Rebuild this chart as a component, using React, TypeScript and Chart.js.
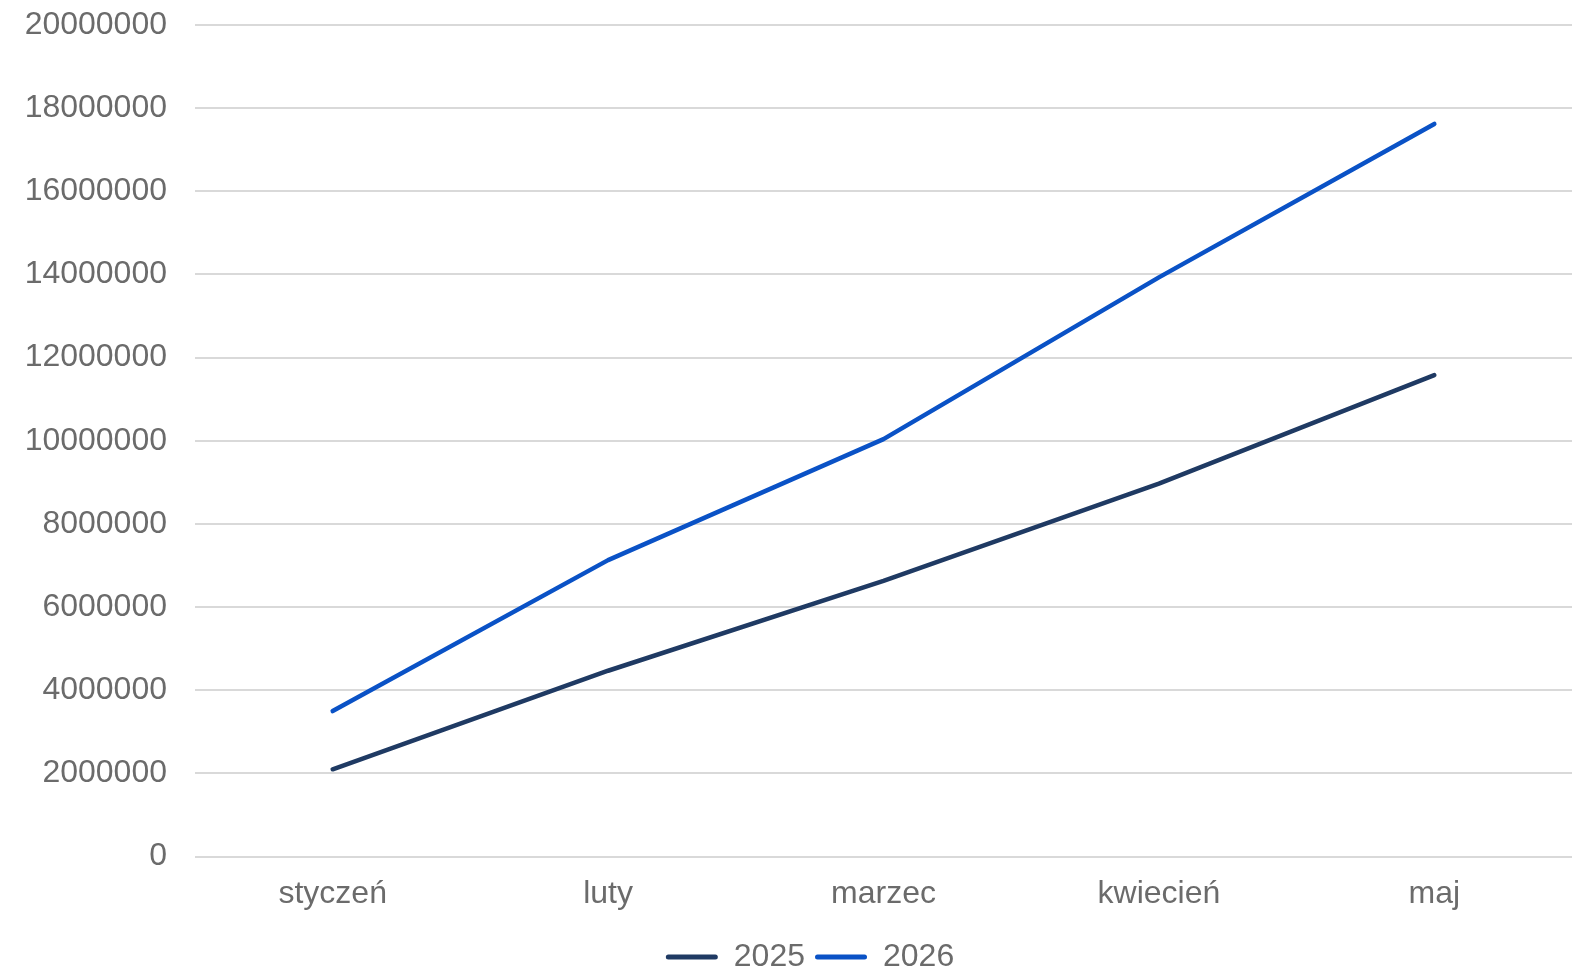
import React, { useEffect, useRef } from "react";
import { Chart, registerables } from "chart.js";

Chart.register(...registerables);

const categories = ["styczeń", "luty", "marzec", "kwiecień", "maj"];
const series2025 = [2100000, 4470000, 6630000, 8970000, 11580000];
const series2026 = [3500000, 7130000, 10040000, 13930000, 17620000];
const seriesLabels = ["2025", "2026"];

const FONT = "'Liberation Sans', Arial, sans-serif";
const TEXT = "#6b6b6b";
const W = 1578;
const H = 969;

const legendShift = {
  id: "legendShift",
  afterLayout(chart: any) {
    const l = chart.legend;
    if (l) {
      l.left += 24;
      l.right += 24;
    }
  },
};

export default function App() {
  const ref = useRef<HTMLCanvasElement | null>(null);

  useEffect(() => {
    document.body.style.margin = "0";
    const canvas = ref.current;
    if (!canvas) return;
    const chart = new Chart(canvas, {
      type: "line",
      data: {
        labels: categories,
        datasets: [
          {
            label: seriesLabels[0],
            data: series2025,
            borderColor: "#1f3a63",
            backgroundColor: "#1f3a63",
            borderWidth: 4.5,
            borderCapStyle: "round",
            borderJoinStyle: "round",
            pointRadius: 0,
            tension: 0,
          },
          {
            label: seriesLabels[1],
            data: series2026,
            borderColor: "#0a52c6",
            backgroundColor: "#0a52c6",
            borderWidth: 4.5,
            borderCapStyle: "round",
            borderJoinStyle: "round",
            pointRadius: 0,
            tension: 0,
          },
        ],
      },
      plugins: [legendShift],
      options: {
        animation: false,
        responsive: false,
        devicePixelRatio: 1,
        layout: { padding: { left: 0, right: 6, top: 25, bottom: -14 } },
        plugins: {
          tooltip: { enabled: false },
          legend: {
            position: "bottom",
            labels: {
              font: { family: FONT, size: 32 },
              color: TEXT,
              boxWidth: 52,
              boxHeight: 5,
              padding: 10,
              generateLabels: (c: any) =>
                c.data.datasets.map((d: any, i: number) => ({
                  text: d.label,
                  fillStyle: d.borderColor,
                  strokeStyle: d.borderColor,
                  lineWidth: 0,
                  borderRadius: 2.5,
                  fontColor: TEXT,
                  datasetIndex: i,
                  hidden: false,
                })),
            },
          },
        },
        scales: {
          x: {
            offset: true,
            grid: { display: false, drawTicks: false },
            border: { display: false },
            ticks: {
              font: { family: FONT, size: 32 },
              color: TEXT,
              padding: 18,
              maxRotation: 0,
            },
          },
          y: {
            min: 0,
            max: 20000000,
            grid: { color: "#d9d9d9", lineWidth: 2, drawTicks: false },
            border: { display: false },
            afterFit: (s: any) => {
              s.width = 195;
              s.paddingTop = 0;
              s.paddingBottom = 0;
            },
            ticks: {
              stepSize: 2000000,
              font: { family: FONT, size: 32 },
              color: TEXT,
              padding: 28,
              callback: (v: any) => String(v),
            },
          },
        },
      },
    });
    return () => chart.destroy();
  }, []);

  return (
    <div style={{ position: "absolute", left: 0, top: 0, width: W, height: H, overflow: "hidden" }}>
      <canvas ref={ref} width={W} height={H} style={{ display: "block" }} />
    </div>
  );
}
